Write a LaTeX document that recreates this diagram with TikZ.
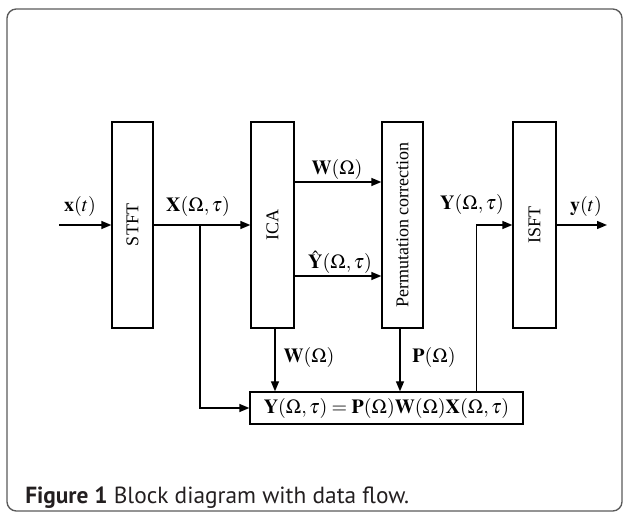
\documentclass[tikz,border=0pt]{standalone}
\usepackage{amsmath}
\usepackage{mathptmx}
\usepackage{fontspec}
\setmainfont{Liberation Serif}
\newfontfamily\capfont{PT Sans}
\usepackage{graphicx}
\usepackage{tikz}
\usetikzlibrary{arrows.meta}
\usetikzlibrary{calc}
\definecolor{capgray}{HTML}{231F20}
\definecolor{framegray}{HTML}{5A5A5A}

\begin{document}
\begin{tikzpicture}[x=0.75pt,y=-0.75pt,
			blok/.style={draw,line width=1pt,fill=white,minimum height=154.5pt,
				inner sep=0pt,font=\fontsize{13.5}{16}\selectfont},
			lbl/.style={inner sep=0pt,anchor=base,font=\fontsize{15}{18}\selectfont},
			arr/.style={line width=1pt,-{Triangle[length=7.5pt,width=6pt]}},
			lin/.style={line width=1pt}]
			\useasboundingbox (0,0) rectangle (625,513);
			\draw[framegray,line width=1pt,rounded corners=7pt] (7,9) rectangle (622,511);
			
			\node[blok,minimum width=30.75pt] (stft) at (132.5,225) {\rotatebox{90}{STFT}};
			\node[blok,minimum width=32.25pt] (ica) at (272.5,225) {\rotatebox{90}{ICA}};
			\node[blok,minimum width=30.75pt] (perm) at (402.5,225) {\rotatebox{90}{Permutation correction}};
			\node[blok,minimum width=32.25pt] (isft) at (534.5,225) {\rotatebox{90}{ISFT}};
			\node[blok,minimum width=204.75pt,minimum height=24pt,font=\fontsize{15}{18}\selectfont] (eq) at (386.5,408)
				{$\mathbf{Y}(\Omega,\tau)=\mathbf{P}(\Omega)\mathbf{W}(\Omega)\mathbf{X}(\Omega,\tau)$};
			
			\coordinate (xin) at (59,225);
			\coordinate (yout) at (607,225);
			\coordinate (br) at (200,225);
			\coordinate (icad) at ($(ica.south)+(2.5,0)$);
			\coordinate (permd) at ($(perm.south)+(-2.5,0)$);
			\coordinate (equp) at ($(eq.north east)+(-47,0)$);
			\coordinate (wo) at ($(ica.east)+(0,-43)$);
			\coordinate (yo) at ($(ica.east)+(0,51)$);
			
			\draw[arr] (xin) -- (stft.west);
			\draw[arr] (stft.east) -- (ica.west);
			\draw[arr] (br) |- (eq.west);
			\draw[arr] (wo) -- (wo -| perm.west);
			\draw[arr] (yo) -- (yo -| perm.west);
			\draw[arr] (icad) -- (icad |- eq.north);
			\draw[arr] (permd) -- (permd |- eq.north);
			\draw[arr] (equp) |- (isft.west);
			\draw[arr] (isft.east) -- (yout);
			
			\node[lbl] (xlab) at (80,212) {$\mathbf{x}(t)$};
			\node[lbl] (Xlab) at (198,212) {$\mathbf{X}(\Omega,\tau)$};
			\node[lbl] (Wlab) at (337,175) {$\mathbf{W}(\Omega)$};
			\node[lbl] (Yhatlab) at (340,269) {$\hat{\mathbf{Y}}(\Omega,\tau)$};
			\node[lbl] (Ylab) at (472,210) {$\mathbf{Y}(\Omega,\tau)$};
			\node[lbl] (ylab) at (586,212) {$\mathbf{y}(t)$};
			\node[lbl] (Wdlab) at (309,363) {$\mathbf{W}(\Omega)$};
			\node[lbl] (Plab) at (434,363) {$\mathbf{P}(\Omega)$};
			
			\node[anchor=base west,inner sep=0pt,text=capgray,font=\capfont\fontsize{17.5}{21}\selectfont] (cap) at (25,503)
				{\textbf{Figure 1} Block diagram with data flow.};
		\end{tikzpicture}
\end{document}
